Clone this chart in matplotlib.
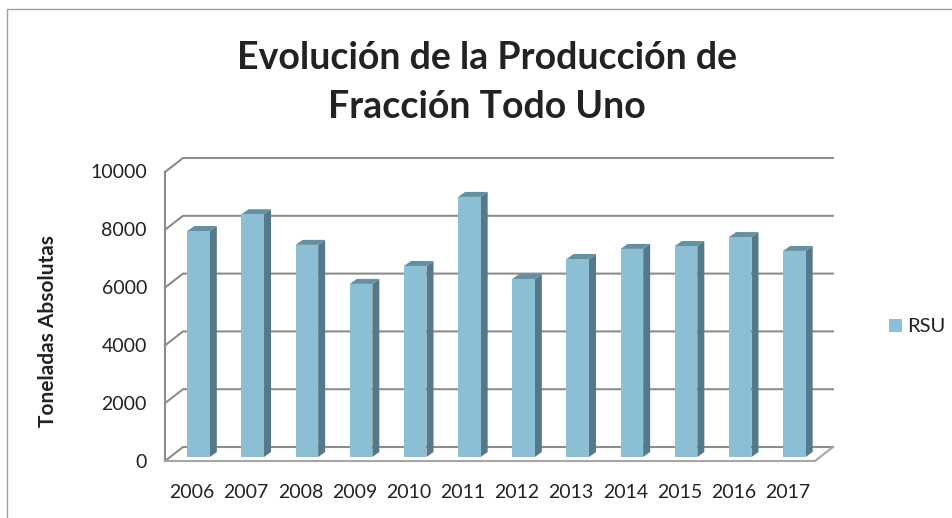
import matplotlib
matplotlib.use("Agg")
import matplotlib.pyplot as plt
from matplotlib.patches import Polygon, Rectangle
from matplotlib.lines import Line2D

years = ["2006", "2007", "2008", "2009", "2010", "2011", "2012", "2013", "2014", "2015", "2016", "2017"]
rsu = [7820, 8400, 7340, 5990, 6610, 9000, 6160, 6850, 7200, 7300, 7610, 7130]
y_ticks = [0, 2000, 4000, 6000, 8000, 10000]
title_lines = ["Evolución de la Producción de", "Fracción Todo Uno"]
y_label = "Toneladas Absolutas"
series_name = "RSU"

W, H = 953, 518
plt.rcParams['font.family'] = ['Lato', 'DejaVu Sans']
fig = plt.figure(figsize=(W / 100, H / 100), dpi=100, facecolor='white')

L, R, T, B = 165, 815, 172, 461
ax = fig.add_axes([L / W, 1 - B / H, (R - L) / W, (B - T) / H])
ax.set_xlim(-0.5, 11.5)
ax.set_ylim(0, 10000)
ax.axis('off')

px = (R - L) / 12
py = (B - T) / 10000
dx = lambda p: p / px       # horizontal pixels to data units
dy = lambda p: p / py       # vertical pixels to data units

GRID = '#8c8c8c'
FACE = '#8cbfd3'
SIDE = '#55798a'
TOP = '#66909f'

DEPTH_X, DEPTH_Y = 18, 14

# Walls and gridlines
x0, x1 = -0.5, 11.5
for v in y_ticks:
    ax.add_line(Line2D([x0, x0 + dx(DEPTH_X), x1 + dx(DEPTH_X)],
                       [v, v + dy(DEPTH_Y), v + dy(DEPTH_Y)],
                       color=GRID, lw=1.5, clip_on=False, zorder=1,
                       solid_joinstyle='miter'))
ax.add_line(Line2D([x0, x0], [0, 10000], color=GRID, lw=1.5, clip_on=False, zorder=1))
ax.add_line(Line2D([x0, x1, x1 + dx(DEPTH_X)], [0, 0, dy(DEPTH_Y)],
                   color='#a6a6a6', lw=1.5, clip_on=False, zorder=2))

# Bars: front face, side face, top face
BAR_W = 22.5 / px
OFF_X, OFF_Y = dx(6.5), dy(4)
BAR_DX, BAR_DY = dx(7), dy(5)
for i, v in enumerate(rsu):
    c = i + OFF_X
    l, r = c - BAR_W / 2, c + BAR_W / 2
    b, t = OFF_Y, OFF_Y + v
    ax.add_patch(Polygon([(r, b), (r + BAR_DX, b + BAR_DY), (r + BAR_DX, t + BAR_DY), (r, t)],
                         closed=True, fc=SIDE, ec='none', zorder=3, clip_on=False))
    ax.add_patch(Polygon([(l, t), (r, t), (r + BAR_DX, t + BAR_DY), (l + BAR_DX, t + BAR_DY)],
                         closed=True, fc=TOP, ec='none', zorder=3, clip_on=False))
    ax.add_patch(Rectangle((l, b), r - l, v, fc=FACE, ec='none', zorder=4, clip_on=False))

# Tick labels
for v in y_ticks:
    ax.text(x0 - dx(18), v - dy(1), str(v), ha='right', va='center', fontsize=14, color='#222222', clip_on=False)
for i, y in enumerate(years):
    ax.text(i, -dy(31.5), y, ha='center', va='center', fontsize=14, color='#222222', clip_on=False)

# Title, axis label
fig.text(487 / W, 1 - 58.5 / H, title_lines[0], ha='center', va='center', fontsize=27, fontweight='bold', color='#222222')
fig.text(487 / W, 1 - 107 / H, title_lines[1], ha='center', va='center', fontsize=27, fontweight='bold', color='#222222')
fig.text(48.5 / W, 1 - 331.5 / H, y_label, rotation=90, ha='center', va='center', fontsize=15,
         fontweight='bold', color='#222222')

# Legend
fig.add_artist(Rectangle((889 / W, 1 - 332 / H), 13 / W, 13 / H, transform=fig.transFigure, fc=FACE, ec='none'))
fig.text(907 / W, 1 - 326 / H, series_name, ha='left', va='center', fontsize=14.5, color='#222222')

# Outer chart border
fig.add_artist(Line2D([7.5 / W, 7.5 / W, 1], [0, 1 - 8.5 / H, 1 - 8.5 / H], transform=fig.transFigure,
                      color='#a0a0a0', lw=1))

fig.savefig('out.png', dpi=100)
